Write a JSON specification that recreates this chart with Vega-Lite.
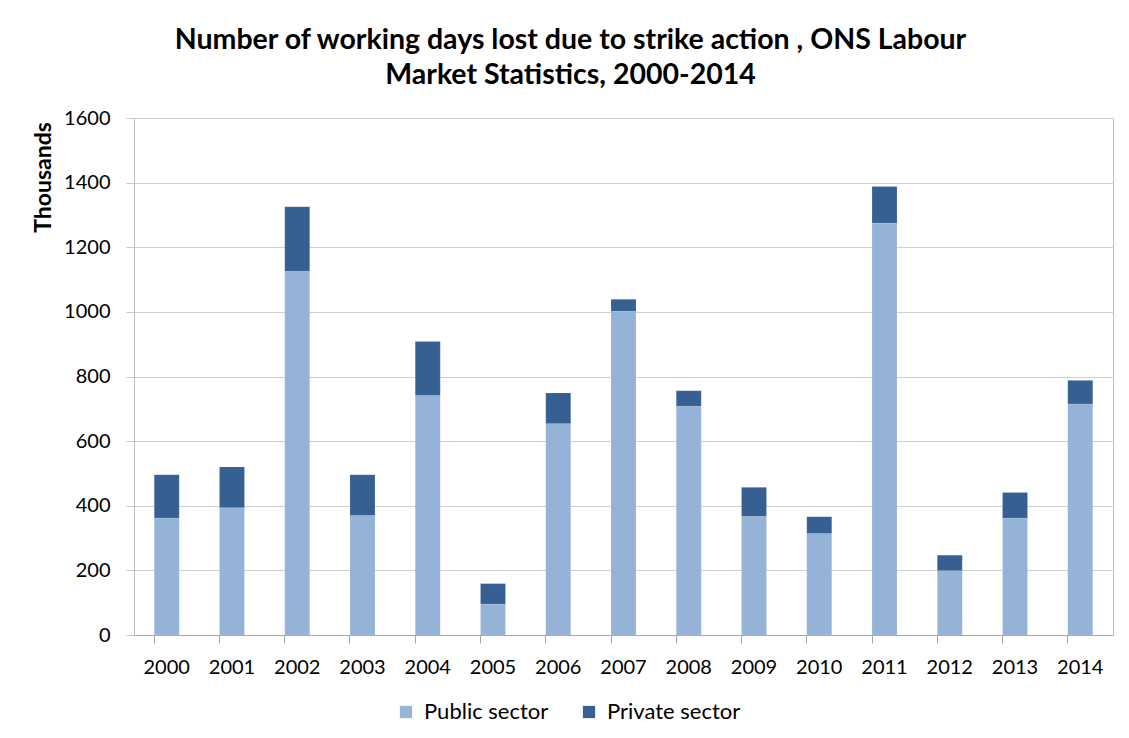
{
  "$schema": "https://vega.github.io/schema/vega-lite/v6.json",
  "autosize": "none",
  "width": 979,
  "height": 517,
  "padding": {"left": 134, "top": 118, "right": 16, "bottom": 103},
  "background": "white",
  "title": {
    "text": ["Number of working days lost due to strike action , ONS Labour", "Market Statistics, 2000-2014"],
    "font": "Lato",
    "fontSize": 28.5,
    "fontWeight": "bold",
    "color": "#000000",
    "anchor": "middle",
    "frame": "group",
    "dx": -53,
    "lineHeight": 35,
    "offset": 19
  },
  "data": {
    "values": [
      {"year": "2000", "sector": "Public sector", "value": 362},
      {"year": "2000", "sector": "Private sector", "value": 134},
      {"year": "2001", "sector": "Public sector", "value": 394},
      {"year": "2001", "sector": "Private sector", "value": 126},
      {"year": "2002", "sector": "Public sector", "value": 1126},
      {"year": "2002", "sector": "Private sector", "value": 199},
      {"year": "2003", "sector": "Public sector", "value": 370},
      {"year": "2003", "sector": "Private sector", "value": 126},
      {"year": "2004", "sector": "Public sector", "value": 741},
      {"year": "2004", "sector": "Private sector", "value": 167},
      {"year": "2005", "sector": "Public sector", "value": 96},
      {"year": "2005", "sector": "Private sector", "value": 63},
      {"year": "2006", "sector": "Public sector", "value": 654},
      {"year": "2006", "sector": "Private sector", "value": 95},
      {"year": "2007", "sector": "Public sector", "value": 1002},
      {"year": "2007", "sector": "Private sector", "value": 37},
      {"year": "2008", "sector": "Public sector", "value": 708},
      {"year": "2008", "sector": "Private sector", "value": 48},
      {"year": "2009", "sector": "Public sector", "value": 367},
      {"year": "2009", "sector": "Private sector", "value": 90},
      {"year": "2010", "sector": "Public sector", "value": 314},
      {"year": "2010", "sector": "Private sector", "value": 52},
      {"year": "2011", "sector": "Public sector", "value": 1275},
      {"year": "2011", "sector": "Private sector", "value": 113},
      {"year": "2012", "sector": "Public sector", "value": 199},
      {"year": "2012", "sector": "Private sector", "value": 48},
      {"year": "2013", "sector": "Public sector", "value": 362},
      {"year": "2013", "sector": "Private sector", "value": 79},
      {"year": "2014", "sector": "Public sector", "value": 715},
      {"year": "2014", "sector": "Private sector", "value": 73}
    ]
  },
  "mark": {"type": "bar", "stroke": "#ffffff", "strokeOpacity": 0.25, "strokeWidth": 0.5},
  "encoding": {
    "x": {
      "field": "year",
      "type": "ordinal",
      "scale": {"paddingInner": 0.617, "paddingOuter": 0.31},
      "axis": {
        "title": null,
        "labelAngle": 0,
        "bandPosition": 0,
        "labelFont": "Lato",
        "labelFontSize": 20,
        "labelColor": "#000000",
        "labelPadding": 14,
        "tickSize": 8,
        "tickColor": "#a6a6a6",
        "domainColor": "#a6a6a6",
        "grid": false
      }
    },
    "y": {
      "field": "value",
      "type": "quantitative",
      "stack": "zero",
      "scale": {"domain": [0, 1600], "nice": false},
      "axis": {
        "title": "Thousands",
        "titleFont": "Lato",
        "titleFontSize": 23,
        "titleFontWeight": "bold",
        "titleColor": "#000000",
        "titleAngle": 270,
        "titleX": -91,
        "titleY": 59,
        "titleAlign": "center",
        "titleBaseline": "middle",
        "values": [0, 200, 400, 600, 800, 1000, 1200, 1400, 1600],
        "format": "d",
        "labelFont": "Lato",
        "labelFontSize": 20,
        "labelColor": "#000000",
        "labelPadding": 16,
        "tickSize": 8,
        "tickColor": "#c8c8c8",
        "domainColor": "#bfbfbf",
        "gridColor": "#d0d0d0",
        "gridWidth": 1.2
      }
    },
    "color": {
      "field": "sector",
      "type": "nominal",
      "scale": {"domain": ["Public sector", "Private sector"], "range": ["#95B3D7", "#366092"]},
      "legend": {
        "title": null,
        "orient": "none",
        "direction": "horizontal",
        "legendX": 261,
        "legendY": 583,
        "symbolType": "square",
        "symbolSize": 150,
        "symbolStrokeWidth": 0,
        "labelFont": "Lato",
        "labelFontSize": 22,
        "labelColor": "#000000",
        "columnPadding": 29,
        "labelOffset": 7
      }
    },
    "order": {"field": "sector", "sort": "descending"}
  },
  "config": {
    "view": {"stroke": "#bfbfbf", "strokeWidth": 1}
  }
}
